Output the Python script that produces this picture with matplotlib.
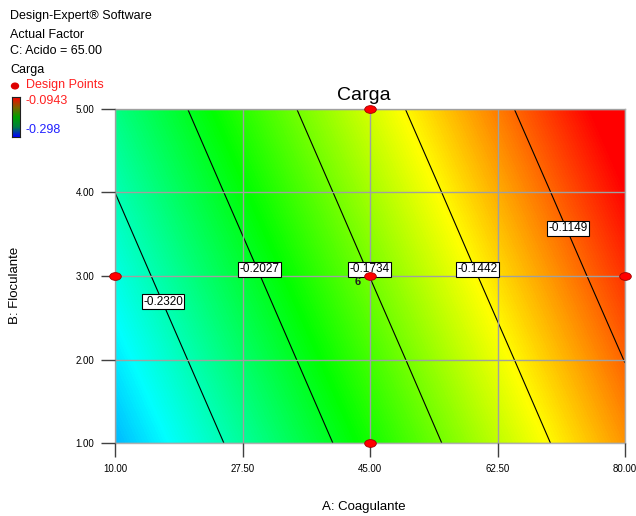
import numpy as np
import matplotlib
matplotlib.use("Agg")
from matplotlib import pyplot as plt
from matplotlib.colors import LinearSegmentedColormap
from matplotlib.path import Path
from matplotlib.transforms import Affine2D

plt.rcParams['font.family'] = ['Liberation Sans', 'DejaVu Sans']

# factor grids (A: Coagulante, B: Floculante) and Carga read at the grid nodes
coagulante = [10.0, 27.5, 45.0, 62.5, 80.0]
floculante = [1.0, 2.0, 3.0, 4.0, 5.0]
carga = [
    [-0.2612, -0.2270, -0.1927, -0.1584, -0.1242],  # B = 1
    [-0.2515, -0.2172, -0.1830, -0.1487, -0.1145],  # B = 2
    [-0.2417, -0.2075, -0.1732, -0.1389, -0.1047],  # B = 3
    [-0.2320, -0.1977, -0.1635, -0.1292, -0.0950],  # B = 4
    [-0.2222, -0.1880, -0.1537, -0.1194, -0.0852],  # B = 5
]
levels = [-0.2320, -0.2027, -0.1734, -0.1442, -0.1149]
label_pos = [(16.6, 2.69), (29.8, 3.08), (44.9, 3.08), (59.7, 3.08), (72.2, 3.57)]
design_a = [45, 10, 45, 80, 45]
design_b = [5, 3, 3, 3, 1]
zmin, zmax = -0.298, -0.0943

cmap = LinearSegmentedColormap.from_list(
    'de', ['#0000ff', '#00ffff', '#00ff00', '#ffff00', '#ff0000'])
cmap_bar = LinearSegmentedColormap.from_list(
    'bar', ['#0000ff', '#008040', '#00a000', '#806000', '#ff0000'])

fig = plt.figure(figsize=(6.36, 5.16), dpi=100)
ax = fig.add_axes([115/636, 1-443/516, 510/636, 334/516])

Z = np.array(carga)
dx = (coagulante[1] - coagulante[0]) / 2
dy = (floculante[1] - floculante[0]) / 2
ax.imshow(Z, origin='lower', cmap=cmap, vmin=zmin, vmax=zmax, aspect='auto',
          interpolation='bilinear', interpolation_stage='data',
          extent=[coagulante[0]-dx, coagulante[-1]+dx, floculante[0]-dy, floculante[-1]+dy],
          zorder=0)
ax.contour(coagulante, floculante, Z, levels=levels, colors='black',
           linewidths=0.8, linestyles='solid', zorder=2)
for lev, (xa, yb) in zip(levels, label_pos):
    ax.text(xa, yb, f"{lev:.4f}", fontsize=8.5, ha='center', va='center', zorder=4,
            bbox=dict(boxstyle='square,pad=0.12', fc='white', ec='black', lw=0.8))

ax.set_xlim(10, 80)
ax.set_ylim(1, 5)
ax.set_xticks(coagulante)
ax.set_yticks(floculante)
ax.set_xticklabels([f"{v:.2f}" for v in coagulante])
ax.set_yticklabels([f"{v:.2f}" for v in floculante])
ax.tick_params(direction='out', length=10, width=1, color='#404040',
               labelsize=7, pad=5)
ax.grid(True, color='#a0a0a0', lw=1, zorder=1)
ax.set_axisbelow(False)
for s in ax.spines.values():
    s.set_color('#b0b0b0')
    s.set_linewidth(1)

ell = Path.unit_circle().transformed(Affine2D().scale(1.5, 1.0))
ax.scatter(design_a, design_b, marker=ell, s=70, c='#ff0000',
           edgecolors='#a00000', linewidths=0.6, zorder=5, clip_on=False)
ax.text(43.3, 2.93, '6', fontsize=8, fontweight='bold', color='#202020',
        ha='center', va='center', zorder=6)

fig.text(364/636, 1-96/516, 'Carga', fontsize=14, ha='center', va='center')
fig.text(364/636, 1-507/516, 'A: Coagulante', fontsize=9.5, ha='center', va='center')
fig.text(15/636, 1-285/516, 'B: Floculante', fontsize=9.5, ha='center', va='center',
         rotation=90)

# legend block top left
fig.text(10/636, 1-16/516, 'Design-Expert® Software', fontsize=9, va='center')
fig.text(10/636, 1-35/516, 'Actual Factor', fontsize=9, va='center')
fig.text(10/636, 1-51/516, 'C: Acido = 65.00', fontsize=9, va='center')
fig.text(10/636, 1-70/516, 'Carga', fontsize=9, va='center')
fig.text(26/636, 1-85/516, 'Design Points', fontsize=9, va='center', color='#ff2020')
fig.patches.append(plt.Circle((15/636, 1-86/516), 0.0055, color='#dd0000',
                              transform=fig.transFigure, figure=fig))

cax = fig.add_axes([12/636, 1-137/516, 8/636, 40/516])
grad = np.linspace(zmax, zmin, 100).reshape(-1, 1)
cax.imshow(grad, cmap=cmap_bar, vmin=zmin, vmax=zmax, aspect='auto')
cax.set_xticks([])
cax.set_yticks([])
for s in cax.spines.values():
    s.set_color('#202020')
fig.text(25/636, 1-101/516, f"{zmax:.4f}", fontsize=9, va='center', color='#ff2020')
fig.text(25/636, 1-130/516, f"{zmin:.3f}", fontsize=9, va='center', color='#2020ff')

fig.savefig('out.png', dpi=100)
